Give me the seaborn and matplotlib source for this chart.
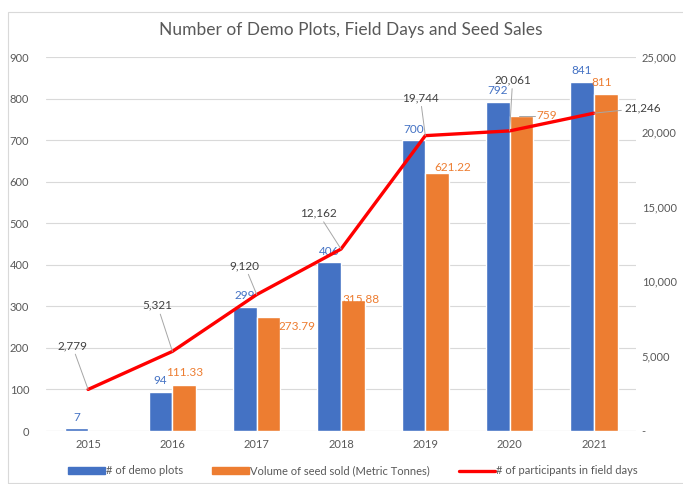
import pandas as pd
import numpy as np
import matplotlib
matplotlib.use("Agg")
import matplotlib.pyplot as plt
from matplotlib.patches import Rectangle
from matplotlib.ticker import FuncFormatter
import seaborn as sns

# ==========================================================
# DATA
# ==========================================================
years = ["2015", "2016", "2017", "2018", "2019", "2020", "2021"]
demo_plots = [7, 94, 299, 406, 700, 792, 841]
seed_sold = [np.nan, 111.33, 273.79, 315.88, 621.22, 759, 811]
participants = [2779, 5321, 9120, 12162, 19744, 20061, 21246]

seed_labels = ["", "111.33", "273.79", "315.88", "621.22", "759", "811"]

bar_names = ["# of demo plots", "Volume of seed sold (Metric Tonnes)"]
line_name = "# of participants in field days"

# label offsets in pixels (text centre relative to the mark)
seed_offsets = [(0, 0), (0, 12), (28, -9), (8, 0), (16, 5), (25, 0), (-4, 11)]
line_offsets = [(-16, 44), (-15, 46), (-12, 29), (-23, 36), (-5, 38), (3, 51), (49, 5)]

BLUE = "#4472C4"
ORANGE = "#ED7D31"
RED = "#FF0000"
GREY = "#595959"
DARK = "#404040"

bars = pd.DataFrame({
    "Year": years * 2,
    "Series": [bar_names[0]] * len(years) + [bar_names[1]] * len(years),
    "Value": demo_plots + seed_sold,
})

# ==========================================================
# PLOT
# ==========================================================
sns.set_style("white")
plt.rcParams["font.family"] = ["Lato", "DejaVu Sans"]

fig = plt.figure(figsize=(6.83, 4.84), dpi=100)
ax = fig.add_axes([0.0673, 0.1095, 0.864, 0.7727])

sns.barplot(data=bars, x="Year", y="Value", hue="Series",
            palette=[BLUE, ORANGE], width=0.56, ax=ax, legend=False,
            saturation=1)

ax.set_ylim(0, 900)
ax.set_yticks(range(0, 901, 100))
ax.set_xlim(-0.5, len(years) - 0.5)
ax.yaxis.grid(True, color="#D9D9D9", lw=0.8)
ax.set_axisbelow(True)
for s in ax.spines.values():
    s.set_visible(False)
ax.axhline(0, color="#D9D9D9", lw=0.8, zorder=0.5)
ax.set_xlabel("")
ax.set_ylabel("")
ax.tick_params(length=0, labelsize=8, colors=GREY, pad=6)
ax.tick_params(axis="y", pad=12)

# blue value labels
blue_bars = ax.containers[0]
ax.bar_label(blue_bars, labels=[str(v) for v in demo_plots], padding=4,
             color=BLUE, fontsize=8.5)

# orange value labels (missing values have no bar)
orange_bars = list(ax.containers[1])
kept = [(lab, off) for v, lab, off in zip(seed_sold, seed_labels, seed_offsets)
        if not np.isnan(v)]
if len(orange_bars) == len(seed_sold):
    orange_bars = [b for b, v in zip(orange_bars, seed_sold) if not np.isnan(v)]
for rect, (lab, off) in zip(orange_bars, kept):
    x = rect.get_x() + rect.get_width() / 2
    y = rect.get_height()
    ax.annotate(lab, (x, y), xytext=off, textcoords="offset pixels",
                ha="center", va="center", color=ORANGE, fontsize=8.5)
    if lab == "759":
        # short leader from the bar top to its label
        ax.plot([rect.get_x() + rect.get_width() * 0.4,
                 rect.get_x() + rect.get_width() + 0.02],
                [y, y], color="#A6A6A6", lw=0.7)

# line on secondary axis
ax2 = ax.twinx()
sns.lineplot(x=years, y=participants, color=RED, lw=2.4, ax=ax2, sort=False)
ax2.set_ylim(0, 25000)
ax2.set_yticks(range(0, 25001, 5000))
ax2.yaxis.set_major_formatter(FuncFormatter(lambda v, p: "-" if v == 0 else f"{int(v):,}"))
for s in ax2.spines.values():
    s.set_visible(False)
ax2.tick_params(length=0, labelsize=8, colors=GREY, pad=4)
ax2.set_ylabel("")
ax2.set_xlim(-0.5, len(years) - 0.5)

for i, (val, off) in enumerate(zip(participants, line_offsets)):
    ax2.annotate(f"{val:,}", (i, val), xytext=off, textcoords="offset pixels",
                 ha="center", va="center", color=DARK, fontsize=8.5,
                 arrowprops=dict(arrowstyle="-", color="#A6A6A6", lw=0.7,
                                 shrinkA=0, shrinkB=0))

# title
fig.text(0.513, 0.937, "Number of Demo Plots, Field Days and Seed Sales",
         ha="center", va="center", fontsize=12.5, color=GREY)

# legend
handles = [
    Rectangle((0, 0), 1, 1, color=BLUE),
    Rectangle((0, 0), 1, 1, color=ORANGE),
    plt.Line2D([0], [0], color=RED, lw=2.4),
]
fig.legend(handles, bar_names + [line_name], loc="center",
           bbox_to_anchor=(0.517, 0.027), ncol=3, frameon=False,
           fontsize=8, labelcolor=GREY, handlelength=3.3, handleheight=0.65,
           handletextpad=0.1, columnspacing=2.6)

# chart border
fig.patches.append(Rectangle((0.012, 0.003), 1.2, 0.972, transform=fig.transFigure,
                             fill=False, edgecolor="#D9D9D9", lw=0.8))

fig.savefig("out.png", dpi=100)
